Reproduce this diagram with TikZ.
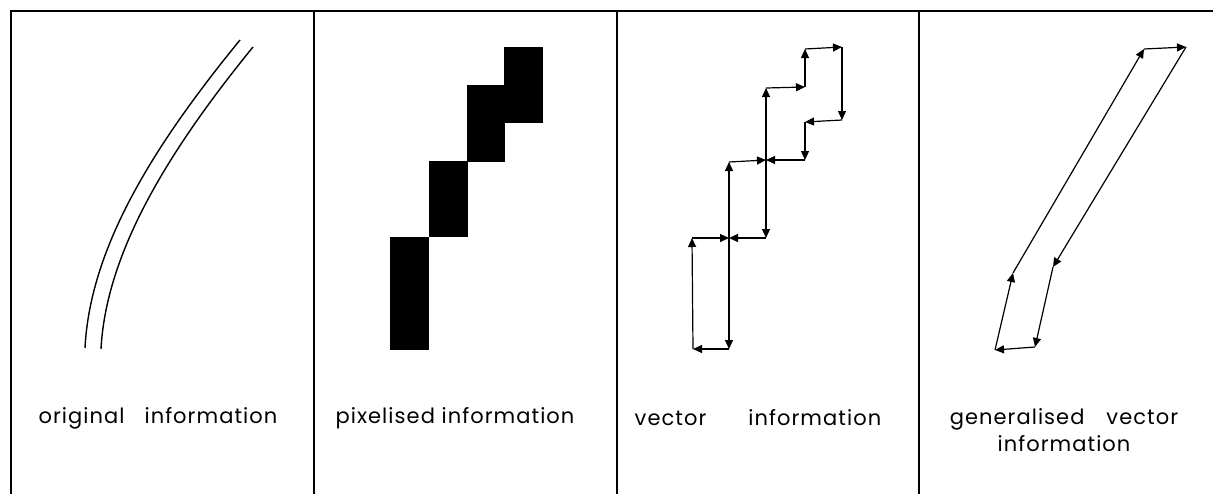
\documentclass[tikz,border=0pt]{standalone}
\usepackage{fontspec}
\setmainfont{Poppins}[LetterSpace=5]
\usetikzlibrary{arrows.meta}
\tikzset{
  frameline/.style={line width=1.5pt, line cap=rect},
  curveline/.style={line width=1.4pt},
  pix/.style={fill=black},
  vec/.style={line width=1.2pt, -{Triangle[length=9pt,width=8pt]}},
  lab/.style={font=\fontsize{21}{27}\selectfont, align=center, inner sep=0pt},
}
\begin{document}
\begin{tikzpicture}[x=1pt,y=-1pt]
\useasboundingbox (0,0) rectangle (1213,493);
% frame
\coordinate (tl) at (11,11);
\coordinate (tr) at (1213,11);
\draw[frameline] (11,493) -- (tl) -- (tr);
\draw[frameline] (314,11) -- (314,493);
\draw[frameline] (617,11) -- (617,493);
\draw[frameline] (919,11) -- (919,493);

% panel 1: original
\draw[curveline] (85,348) .. controls (90,250) and (150,150) .. (240,40);
\draw[curveline] (101,349) .. controls (106,255) and (165,155) .. (253,47);

% panel 2: pixelised
\fill[pix] (390,237) rectangle (429,350);
\fill[pix] (429,161) rectangle (468,237);
\fill[pix] (467,85) rectangle (505,162);
\fill[pix] (504,47) rectangle (543,123);

% panel 3: vector
\coordinate (v1) at (693,349);
\coordinate (v2) at (692,238);
\coordinate (v3) at (729,238);
\coordinate (v4) at (729,162);
\coordinate (v5) at (766,160);
\coordinate (v6) at (766,88);
\coordinate (v7) at (805,87);
\coordinate (v8) at (805,49);
\coordinate (v9) at (842,47);
\coordinate (v10) at (842,120);
\coordinate (v11) at (805,122);
\coordinate (v12) at (805,160);
\coordinate (v13) at (766,160);
\coordinate (v14) at (766,238);
\coordinate (v15) at (729,238);
\coordinate (v16) at (729,349);
\foreach \a/\b in {v1/v2,v2/v3,v3/v4,v4/v5,v5/v6,v6/v7,v7/v8,v8/v9,v9/v10,v10/v11,v11/v12,v12/v13,v13/v14,v14/v15,v15/v16,v16/v1}
  \draw[vec] (\a) -- (\b);

% panel 4: generalised vector
\coordinate (g1) at (995,350);
\coordinate (g2) at (1013,273);
\coordinate (g3) at (1144,49);
\coordinate (g4) at (1186,47);
\coordinate (g5) at (1053,267);
\coordinate (g6) at (1035,347);
\foreach \a/\b in {g1/g2,g2/g3,g3/g4,g4/g5,g5/g6,g6/g1}
  \draw[vec] (\a) -- (\b);

% labels
\node[lab] (l1) at (158,418) {original\hspace{20pt}information};
\node[lab] (l2) at (455,418) {pixelised information};
\node[lab] (l3) at (758,418) {vector\hspace{42pt}information};
\node[lab, anchor=north] (l4) at (1064,408) {generalised\hspace{22pt}vector\\information};
\end{tikzpicture}
\end{document}
